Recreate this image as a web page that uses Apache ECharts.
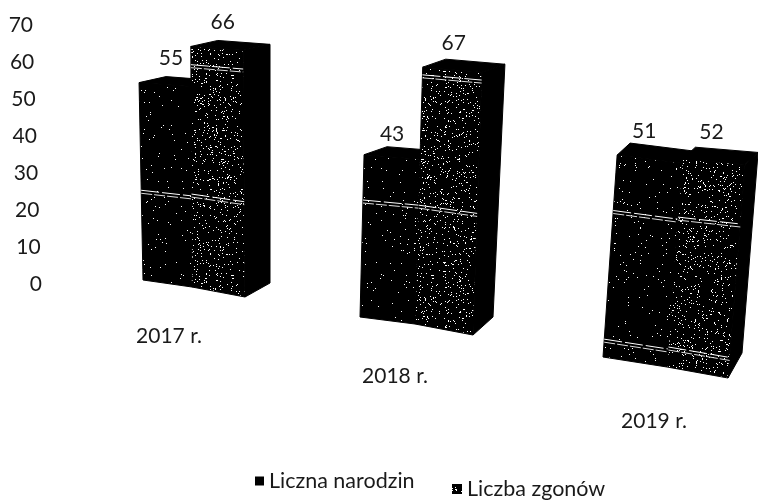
<!DOCTYPE html>
<html>
<head>
<meta charset="utf-8">
<style>html,body{margin:0;background:#fff}#main{width:758px;height:500px}</style>
<script src="https://cdn.jsdelivr.net/npm/echarts@6/dist/echarts.min.js"></script>
</head>
<body>
<div id="main"></div>
<script>
var categories = ['2017 r.', '2018 r.', '2019 r.']
var narodzin = [55, 43, 51]
var zgonow = [66, 67, 52]
var yTicks = [0, 10, 20, 30, 40, 50, 60, 70]
var seriesNames = ['Liczna narodzin', 'Liczba zgonów']

// white scan lines across the bars, read as values on the axis
var linesNarodzin = [[25], [31], [37, 4.5]]
var linesZgonow = [[25.5, 61], [31, 65], [37.5, 5]]

// the picture is a crooked scan: every group has its own baseline, lean and depth
// three corners per group: left, shared edge, right
var baseDx = [[-25, 24, 77], [-38, 17, 75], [-25, 39, 100]]
var baseDy = [[-4, 3, 13], [33, 40, 51], [73, 83, 94]]
var stretch = [[0.97, 0.985, 1.01], [1.02, 1.036, 1.06], [1.07, 1.08, 1.11]]
var lean = [[-0.02, -0.005, -0.008], [0.025, 0.03, 0.034], [0.07, 0.074, 0.08]]
var depthTop = [[27, -6], [23, -8], [13, -12]]
var depthBottom = [[25, -14], [20, -18], [14, -25]]
var labelShift = [[[5, -18], [5, -18]], [[5, -12], [8, -16]], [[14, -12], [16, -15]]]

// speckle texture of the scanned bars
function speckle(density, seed) {
    var c = document.createElement('canvas')
    c.width = c.height = 200
    var ctx = c.getContext('2d')
    ctx.fillStyle = '#000'
    ctx.fillRect(0, 0, 200, 200)
    ctx.fillStyle = '#fff'
    var s = seed
    function next() {
        s ^= s << 13
        s ^= s >>> 17
        s ^= s << 5
        return (s >>> 0) % 200
    }
    for (var i = 0; i < 200 * 200 * density; i++) {
        ctx.fillRect(next(), next(), 1, 1)
    }
    return { image: c, repeat: 'repeat' }
}
var fills = [speckle(0.012, 2463534242), speckle(0.06, 88172645)]

function renderBar(barIndex, scratches) {
    return function (params, api) {
        var g = api.value(0)
        var v = api.value(1)
        var zero = api.coord([g, 0])
        var top = api.coord([g, v])
        var h = zero[1] - top[1]
        function corner(k, value) {
            var hh = (value === undefined ? h : zero[1] - api.coord([g, value])[1]) * stretch[g][k]
            var bx = zero[0] + baseDx[g][k]
            var by = zero[1] + baseDy[g][k]
            return [bx + hh * lean[g][k], by - hh]
        }
        var l = barIndex, r = barIndex + 1
        var bl = corner(l, 0), br = corner(r, 0), tl = corner(l), tr = corner(r)
        var dt = depthTop[g], db = depthBottom[g]
        var add = function (p, d) { return [p[0] + d[0], p[1] + d[1]] }
        var solid = { fill: '#000', stroke: '#000', lineWidth: 1 }
        var children = [
            { type: 'polygon', shape: { points: [tr, add(tr, dt), add(br, db), br] }, style: solid },
            { type: 'polygon', shape: { points: [tl, add(tl, dt), add(tr, dt), tr] }, style: solid },
            { type: 'polygon', shape: { points: [tl, tr, br, bl] }, style: { fill: fills[barIndex], stroke: '#000', lineWidth: 1 } }
        ]
        scratches[g].forEach(function (level) {
            var a = corner(l, level), b = corner(r, level)
            children.push(
                { type: 'line', shape: { x1: a[0], y1: a[1], x2: b[0], y2: b[1] }, style: { stroke: '#fff', lineWidth: 1, lineDash: [18, 3] } },
                { type: 'line', shape: { x1: a[0], y1: a[1] + 3, x2: b[0], y2: b[1] + 3 }, style: { stroke: '#ddd', lineWidth: 1, lineDash: [11, 2] } }
            )
        })
        var peak = add(tl, dt), shift = labelShift[g][barIndex]
        children.push({
            type: 'text',
            x: peak[0] + shift[0],
            y: peak[1] + shift[1],
            style: { text: String(v), fill: '#1a1a1a', font: '21px Lato', align: 'center', verticalAlign: 'middle' }
        })
        return { type: 'group', children: children }
    }
}

function toPoints(values) {
    return values.map(function (v, i) { return [i, v] })
}

var yRich = {}
yTicks.forEach(function (t) {
    yRich['t' + t] = { padding: [0, t / 70 * 9, 0, 0], fontSize: 21, fontFamily: 'Lato', color: '#1a1a1a' }
})
var xText = { fontSize: 21, fontFamily: 'Lato', color: '#1a1a1a' }

var option = {
    animation: false,
    grid: { left: 53, width: 690, top: 25, height: 259 },
    legend: [
        {
            data: [seriesNames[0]], left: 250, top: 465, icon: 'rect', itemWidth: 9, itemHeight: 9,
            selectedMode: false, textStyle: { fontSize: 21.5, fontFamily: 'Lato', color: '#1a1a1a' }
        },
        {
            data: [seriesNames[1]], left: 447, top: 473, icon: 'rect', itemWidth: 10, itemHeight: 10,
            itemStyle: { color: fills[1] },
            selectedMode: false, textStyle: { fontSize: 21.5, fontFamily: 'Lato', color: '#1a1a1a' }
        }
    ],
    xAxis: {
        type: 'category',
        data: categories,
        axisLine: { show: false },
        axisTick: { show: false },
        axisLabel: {
            margin: 0,
            interval: 0,
            formatter: function (v, i) { return '{c' + i + '|' + v + '}' },
            rich: {
                c0: Object.assign({ padding: [42, 0, 0, 2] }, xText),
                c1: Object.assign({ padding: [82, 6, 0, 0] }, xText),
                c2: Object.assign({ padding: [127, 0, 0, 52] }, xText)
            }
        }
    },
    yAxis: {
        type: 'value',
        min: 0,
        max: 70,
        interval: 10,
        axisLine: { show: false },
        axisTick: { show: false },
        splitLine: { show: false },
        axisLabel: {
            margin: 11,
            formatter: function (v) { return '{t' + v + '|' + v + '}' },
            rich: yRich
        }
    },
    series: [
        {
            name: seriesNames[0],
            type: 'custom',
            renderItem: renderBar(0, linesNarodzin),
            itemStyle: { color: '#000' },
            encode: { x: 0, y: 1 },
            data: toPoints(narodzin)
        },
        {
            name: seriesNames[1],
            type: 'custom',
            renderItem: renderBar(1, linesZgonow),
            itemStyle: { color: '#333' },
            encode: { x: 0, y: 1 },
            data: toPoints(zgonow)
        }
    ]
}
echarts.init(document.getElementById('main')).setOption(option)
</script>
</body>
</html>
